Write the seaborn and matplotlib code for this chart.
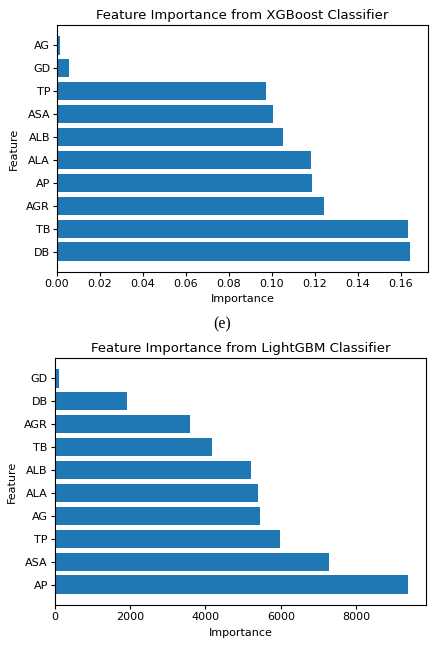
import numpy as np
import matplotlib
matplotlib.use("Agg")
import matplotlib.pyplot as plt
import seaborn as sns

# XGBoost importances, listed top to bottom as drawn
xgb_features = ["AG", "GD", "TP", "ASA", "ALB", "ALA", "AP", "AGR", "TB", "DB"]
xgb_importance = [0.0016, 0.0057, 0.0975, 0.1006, 0.1053, 0.1183, 0.1189, 0.1245, 0.1634, 0.1645]

# LightGBM importances, listed top to bottom as drawn
lgb_features = ["GD", "DB", "AGR", "TB", "ALB", "ALA", "AG", "TP", "ASA", "AP"]
lgb_importance = [115, 1920, 3593, 4186, 5221, 5398, 5460, 5973, 7274, 9381]

BAR_COLOR = "#1f77b4"


def draw_panel(ax, features, values, title):
    sns.barplot(x=values, y=features, orient="h", color=BAR_COLOR,
                saturation=1, width=0.8, ax=ax)
    n = len(features)
    pad = 0.05 * (n - 1 + 0.8)
    ax.set_ylim(n - 1 + 0.4 + pad, -0.4 - pad)
    ax.set_xlim(0, max(values) * 1.05)
    ax.set_title(title, fontsize=9.5, pad=4)
    ax.set_xlabel("Importance", fontsize=8, labelpad=4)
    ax.set_ylabel("Feature", fontsize=8, labelpad=5)
    ax.tick_params(labelsize=8, length=3, pad=2)
    for s in ax.spines.values():
        s.set_visible(True)
        s.set_color("black")
        s.set_linewidth(0.8)


fig = plt.figure(figsize=(4.35, 6.47), dpi=100)
ax1 = fig.add_axes([0.131, 0.5796, 0.853, 0.3818])
ax2 = fig.add_axes([0.126, 0.0649, 0.853, 0.3818])

draw_panel(ax1, xgb_features, xgb_importance, "Feature Importance from XGBoost Classifier")
draw_panel(ax2, lgb_features, lgb_importance, "Feature Importance from LightGBM Classifier")
ax1.set_xticks(np.arange(0, 0.17, 0.02))
ax1.xaxis.set_major_formatter(matplotlib.ticker.FormatStrFormatter("%.2f"))
ax2.set_xticks(np.arange(0, 9000, 2000))

fig.text(0.51, 1 - 324 / 647, "(e)", ha="center", va="center",
         family="Liberation Serif", fontsize=11.5)

fig.savefig("out.png", dpi=100)
